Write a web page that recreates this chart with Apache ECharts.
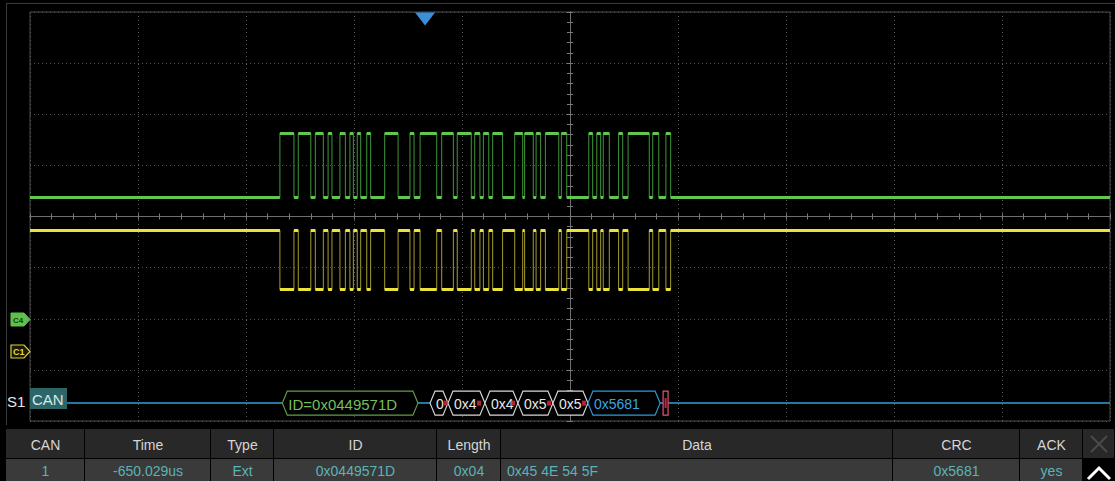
<!DOCTYPE html>
<html>
<head>
<meta charset="utf-8">
<script src="https://cdn.jsdelivr.net/npm/echarts@6/dist/echarts.min.js"></script>
<style>
html,body{margin:0;padding:0;background:#000;}
#chart{width:1115px;height:481px;}
</style>
</head>
<body>
<div id="chart"></div>
<script>
// ---------------- DATA ----------------
// Time axis in microseconds (500 us/div, screen centre = 0)
const timeMin = -2500;
const timeMax = 2500;
const timeDiv = 500;
// Dominant bit intervals (us)
const dominantStartUs = [-1343,-1258,-1179,-1120,-1065,-1019,-985,-941,-858,-741,-694,-594,-522,-441,-401,-358,-256,-210,-157,-114,-40,87,124,154,225,269,383,444];
const dominantEndUs   = [-1278,-1200,-1142,-1102,-1040,-1003,-969,-923,-796,-722,-617,-540,-457,-417,-376,-312,-219,-170,-136,-52,-15,105,142,182,244,367,411,466];
// Channel levels in divisions (recessive, dominant)
const greenLevels  = [0.37, 1.63];   // C4 (CAN-H)
const yellowLevels = [-0.27, -1.43]; // C1 (CAN-L)
// Decoded bus row
const decodeLevel = -3.65;
const decodeStartUs = [-1332, -648, -565, -394, -241, -79, 83, 431];
const decodeEndUs   = [-704, -565, -394, -241, -79, 83, 417, 454];
const decodeText    = ['ID=0x0449571D', '0', '0x4', '0x4', '0x5', '0x5', '0x5681', ''];
const decodeKind    = ['id', 'data', 'data', 'data', 'data', 'data', 'crc', 'ack'];
const stuffMarkUs   = [-574, -421, -264, -97, 65];
const triggerUs = -671;
// Event table
const tableHeaders = ['CAN', 'Time', 'Type', 'ID', 'Length', 'Data', 'CRC', 'ACK'];
const tableRow     = ['1', '-650.029us', 'Ext', '0x0449571D', '0x04', '0x45 4E 54 5F', '0x5681', 'yes'];

// ---------------- BUILD ----------------
function stepLine(levels) {
  const rec = levels[0], dom = levels[1];
  const pts = [[timeMin, rec]];
  for (let i = 0; i < dominantStartUs.length; i++) {
    pts.push([dominantStartUs[i], rec], [dominantStartUs[i], dom], [dominantEndUs[i], dom], [dominantEndUs[i], rec]);
  }
  pts.push([timeMax, rec]);
  return pts;
}
function levelSegs(levels) {
  const rec = levels[0], dom = levels[1];
  const segs = [];
  let t = timeMin;
  for (let i = 0; i < dominantStartUs.length; i++) {
    segs.push({coords: [[t, rec], [dominantStartUs[i], rec]]});
    segs.push({coords: [[dominantStartUs[i], dom], [dominantEndUs[i], dom]]});
    t = dominantEndUs[i];
  }
  segs.push({coords: [[t, rec], [timeMax, rec]]});
  return segs;
}

const FONT = '"Liberation Sans", Arial, sans-serif';
const decodeStyles = {
  id:   {stroke: '#5f9e48', text: '#74bf5c', size: 15},
  data: {stroke: '#d8d8d8', text: '#e8e8e8', size: 14},
  crc:  {stroke: '#2f9bd6', text: '#39a6e2', size: 14},
  ack:  {stroke: '#e0567a', text: '#e0567a', size: 14}
};

const chart = echarts.init(document.getElementById('chart'), null, {renderer: 'svg'});

const tickStyle = {color: '#7a7a7a', width: 1};
function xAx(inside, main) {
  return {
    type: 'value', min: timeMin, max: timeMax, interval: timeDiv, position: 'bottom',
    axisLabel: {show: false},
    axisLine: {show: true, onZero: true, lineStyle: {color: '#6e6e6e', width: 1}},
    axisTick: {show: true, inside: inside, length: 3, lineStyle: tickStyle},
    minorTick: {show: true, splitNumber: 5, length: 3, lineStyle: tickStyle},
    splitLine: {show: main, lineStyle: {color: '#555', type: [1, 3], width: 1}}
  };
}
function yAx(inside, main) {
  return {
    type: 'value', min: -4, max: 4, interval: 1, position: 'left',
    axisLabel: {show: false},
    axisLine: {show: true, onZero: true, lineStyle: {color: '#6e6e6e', width: 1}},
    axisTick: {show: true, inside: inside, length: 3, lineStyle: tickStyle},
    minorTick: {show: true, splitNumber: 5, length: 3, lineStyle: tickStyle},
    splitLine: {show: main, lineStyle: {color: '#555', type: [1, 3], width: 1}}
  };
}

// Table graphics
const colEdges = [6, 85, 211, 274, 437, 501, 893, 1020, 1083, 1115];
const headTop = 429, headH = 29, rowTop = 459, rowH = 22;
const graphics = [];
// outer frame
graphics.push({type: 'line', shape: {x1: 6.5, y1: 3, x2: 6.5, y2: 425}, style: {stroke: '#3a3a3a', lineWidth: 1}, z: 1});
graphics.push({type: 'line', shape: {x1: 6, y1: 3.5, x2: 1115, y2: 3.5}, style: {stroke: '#3a3a3a', lineWidth: 1}, z: 1});
for (let c = 0; c < colEdges.length - 1; c++) {
  const x0 = colEdges[c], x1 = colEdges[c + 1];
  graphics.push({type: 'rect', shape: {x: x0, y: headTop, width: x1 - x0 - 1, height: headH}, style: {fill: '#282828'}, z: 10});
  graphics.push({type: 'rect', shape: {x: x0, y: rowTop, width: x1 - x0 - 1, height: rowH}, style: {fill: c === 8 ? '#000' : '#3a3a3a'}, z: 10});
  if (c < tableHeaders.length) {
    graphics.push({type: 'text', x: (x0 + x1) / 2, y: headTop + headH / 2 + 1, z: 11,
      style: {text: tableHeaders[c], fill: '#d6d6d6', font: '14px ' + FONT, align: 'center', verticalAlign: 'middle'}});
    const leftAlign = tableHeaders[c] === 'Data';
    graphics.push({type: 'text', x: leftAlign ? x0 + 6 : (x0 + x1) / 2, y: rowTop + rowH / 2 + 1, z: 11,
      style: {text: tableRow[c], fill: '#5cb3b6', font: '14px ' + FONT, align: leftAlign ? 'left' : 'center', verticalAlign: 'middle'}});
  }
}
// close "x" and up chevron
graphics.push({type: 'line', shape: {x1: 1091, y1: 436, x2: 1107, y2: 452}, style: {stroke: '#4a4a4a', lineWidth: 2}, z: 12});
graphics.push({type: 'line', shape: {x1: 1107, y1: 436, x2: 1091, y2: 452}, style: {stroke: '#4a4a4a', lineWidth: 2}, z: 12});
graphics.push({type: 'polyline', shape: {points: [[1088, 479], [1099, 468], [1110, 479]]}, style: {stroke: '#ffffff', lineWidth: 3, fill: null}, z: 12});
// S1 CAN label
graphics.push({type: 'text', x: 7, y: 401, z: 12, style: {text: 'S1', fill: '#e6e6e6', font: '15px ' + FONT, verticalAlign: 'middle'}});
graphics.push({type: 'rect', shape: {x: 30, y: 388, width: 37, height: 21}, style: {fill: '#2d6668'}, z: 12});
graphics.push({type: 'text', x: 32, y: 399, z: 13, style: {text: 'CAN', fill: '#d4eaea', font: '15px ' + FONT, verticalAlign: 'middle'}});
// channel markers
graphics.push({type: 'polygon', shape: {points: [[11, 313], [24, 313], [30, 319.5], [24, 326], [11, 326]]}, style: {fill: '#5cc24a', stroke: '#5cc24a'}, z: 12});
graphics.push({type: 'text', x: 13, y: 320, z: 13, style: {text: 'C4', fill: '#1c3a14', font: 'bold 8px ' + FONT, verticalAlign: 'middle'}});
graphics.push({type: 'polygon', shape: {points: [[11, 345], [24, 345], [30, 351.5], [24, 358], [11, 358]]}, style: {fill: '#1a1800', stroke: '#d8cf3a', lineWidth: 1.2}, z: 12});
graphics.push({type: 'text', x: 13, y: 352, z: 13, style: {text: 'C1', fill: '#e2da40', font: 'bold 9px ' + FONT, verticalAlign: 'middle'}});

const option = {
  backgroundColor: '#000',
  animation: false,
  grid: {left: 30, right: 5, top: 12, bottom: 60, show: true, borderColor: '#4d4d4d', borderWidth: 1, backgroundColor: 'transparent'},
  xAxis: [xAx(true, true), xAx(false, false)],
  yAxis: [yAx(true, true), yAx(false, false)],
  graphic: graphics,
  series: [
    {type: 'line', xAxisIndex: 0, yAxisIndex: 0, data: stepLine(greenLevels), symbol: 'none', z: 3,
      lineStyle: {color: '#3f963a', width: 1}, silent: true,
      markPoint: {symbol: 'triangle', symbolRotate: 180, symbolSize: [20, 13], symbolOffset: [0, 7], silent: true,
        itemStyle: {color: '#3b8fd8'}, label: {show: false},
        data: [{coord: [triggerUs, 4]}]}},
    {type: 'lines', coordinateSystem: 'cartesian2d', xAxisIndex: 0, yAxisIndex: 0, data: levelSegs(greenLevels), z: 4,
      lineStyle: {color: '#62c74e', width: 3, opacity: 1}, silent: true},
    {type: 'line', xAxisIndex: 0, yAxisIndex: 0, data: stepLine(yellowLevels), symbol: 'none', z: 3,
      lineStyle: {color: '#a49c2e', width: 1}, silent: true},
    {type: 'lines', coordinateSystem: 'cartesian2d', xAxisIndex: 0, yAxisIndex: 0, data: levelSegs(yellowLevels), z: 4,
      lineStyle: {color: '#ebe33c', width: 3, opacity: 1}, silent: true},
    {type: 'lines', coordinateSystem: 'cartesian2d', xAxisIndex: 0, yAxisIndex: 0, z: 5, silent: true,
      data: [{coords: [[timeMin, decodeLevel], [timeMax, decodeLevel]]}],
      lineStyle: {color: '#2f9fd8', width: 1.5, opacity: 1}},
    {type: 'custom', xAxisIndex: 0, yAxisIndex: 0, z: 6, silent: true,
      data: decodeStartUs.map((s, i) => [s, decodeEndUs[i], i]),
      renderItem: function (params, api) {
        const i = api.value(2);
        const a = api.coord([api.value(0), decodeLevel]);
        const b = api.coord([api.value(1), decodeLevel]);
        const st = decodeStyles[decodeKind[i]];
        const h = 12, c = 5, y = a[1];
        if (decodeKind[i] === 'ack') {
          return {type: 'group', children: [
            {type: 'rect', shape: {x: a[0], y: y - h, width: b[0] - a[0], height: 2 * h}, style: {fill: '#000', stroke: st.stroke, lineWidth: 1.2}},
            {type: 'line', shape: {x1: (a[0] + b[0]) / 2, y1: y - 5, x2: (a[0] + b[0]) / 2, y2: y + 5}, style: {stroke: '#e02040', lineWidth: 2}}
          ]};
        }
        const cc = Math.min(c, (b[0] - a[0]) / 3);
        return {type: 'group', children: [
          {type: 'polygon', shape: {points: [[a[0], y], [a[0] + cc, y - h], [b[0] - cc, y - h], [b[0], y], [b[0] - cc, y + h], [a[0] + cc, y + h]]},
            style: {fill: '#000', stroke: st.stroke, lineWidth: 1.2}},
          {type: 'text', x: a[0] + cc + 1, y: y + 1,
            style: {text: decodeText[i], fill: st.text, font: st.size + 'px ' + FONT, align: 'left', verticalAlign: 'middle'}}
        ]};
      }},
    {type: 'scatter', xAxisIndex: 0, yAxisIndex: 0, z: 7, silent: true,
      data: stuffMarkUs.map(t => [t, decodeLevel]),
      symbol: 'rect', symbolSize: [4, 5], itemStyle: {color: '#e02a44'}}
  ]
};
chart.setOption(option);
</script>
</body>
</html>
